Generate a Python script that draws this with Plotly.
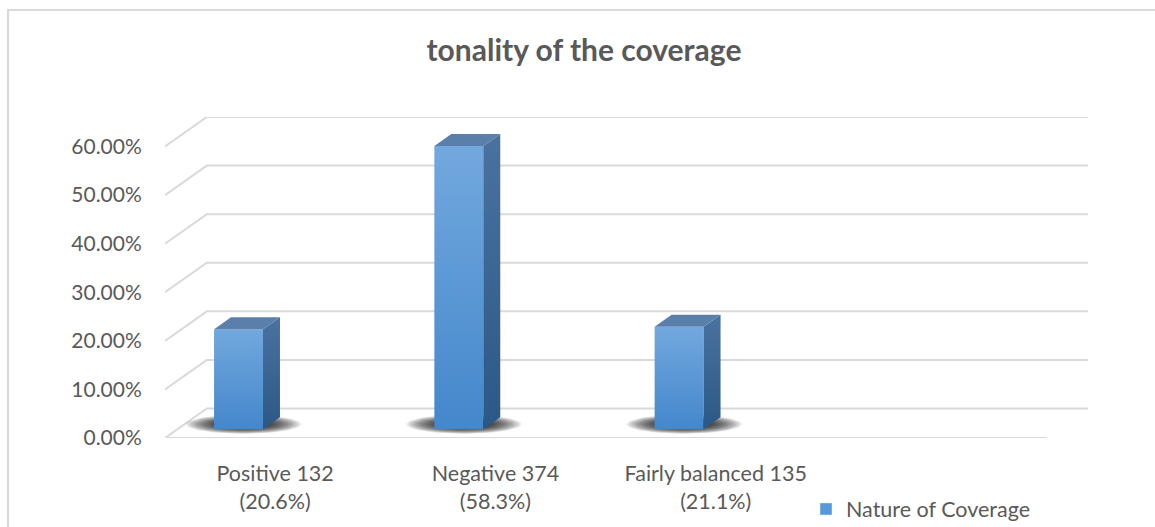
import numpy as np
import plotly.graph_objects as go

# ---- data ----
categories = ["Positive 132", "Negative 374", "Fairly balanced 135"]
shares = ["(20.6%)", "(58.3%)", "(21.1%)"]
values = [20.6, 58.3, 21.1]
y_ticks = [0, 10, 20, 30, 40, 50, 60]
y_tick_labels = [f"{v:.2f}%" for v in y_ticks]
series_name = "Nature of Coverage"
chart_title = "tonality of the coverage"

# ---- 3-D look: oblique projection of the depth axis onto x/y ----
N_SLOTS = 4            # floor is laid out for four category slots
DX, DY = 0.19, 6.08    # shift of the back wall, in x units / y units
D0, D1 = 0.295, 0.70   # front and back depth of the columns (0 = front, 1 = back wall)
BAR_OFFSET, BAR_WIDTH = -1 / 3, 2 / 9

TEXT = "#595959"
GRID = "#d9d9d9"
FONT = "Lato"


def proj(x, y, d):
    return x + d * DX, y + d * DY


fig = go.Figure()

# side-wall and back-wall gridlines
gx, gy = [], []
for v in y_ticks:
    for x, y in (proj(-0.5, v, 0), proj(-0.5, v, 1), proj(N_SLOTS - 0.5, v, 1)):
        gx.append(x)
        gy.append(y)
    gx.append(None)
    gy.append(None)
# front edge of the floor
for x, y in (proj(-0.5, 0, 0), proj(N_SLOTS - 0.5, 0, 0)):
    gx.append(x)
    gy.append(y)
fig.add_trace(go.Scatter(x=gx, y=gy, mode="lines", line=dict(color=GRID, width=2),
                         hoverinfo="skip", showlegend=False, cliponaxis=False))

t = np.linspace(0, 2 * np.pi, 72)
for i, v in enumerate(values):
    xl = i + BAR_OFFSET
    xr = xl + BAR_WIDTH
    dm = (D0 + D1) / 2

    # soft shadow on the floor around the column base (stacked translucent ellipses)
    cx, cy = proj((xl + xr) / 2 - 0.01, 0, dm - 0.03)
    for k in np.linspace(1.05, 0.35, 22):
        fig.add_trace(go.Scatter(
            x=cx + 0.25 * k * np.cos(t), y=cy + 1.9 * k * np.sin(t),
            mode="lines", fill="toself", line=dict(width=0),
            fillcolor="rgba(0,0,0,0.065)", hoverinfo="skip", showlegend=False))

    # front face
    p = [proj(xl, 0, D0), proj(xr, 0, D0), proj(xr, v, D0), proj(xl, v, D0), proj(xl, 0, D0)]
    fig.add_trace(go.Scatter(
        x=[a for a, _ in p], y=[b for _, b in p], mode="lines", fill="toself",
        line=dict(width=0),
        fillgradient=dict(type="vertical", colorscale=[[0, "#4487cb"], [1, "#72a8de"]]),
        hovertext=f"{categories[i]} {shares[i]}", hoverinfo="text", showlegend=False))

    # right side face
    p = [proj(xr, 0, D0), proj(xr, v, D0), proj(xr, v, D1), proj(xr, 0, D1), proj(xr, 0, D0)]
    fig.add_trace(go.Scatter(
        x=[a for a, _ in p], y=[b for _, b in p], mode="lines", fill="toself",
        line=dict(width=0),
        fillgradient=dict(type="vertical", colorscale=[[0, "#2b5886"], [1, "#4a72a0"]]),
        hoverinfo="skip", showlegend=False))

    # top face
    p = [proj(xl, v, D0), proj(xr, v, D0), proj(xr, v, D1), proj(xl, v, D1), proj(xl, v, D0)]
    fig.add_trace(go.Scatter(
        x=[a for a, _ in p], y=[b for _, b in p], mode="lines", fill="toself",
        line=dict(width=0), fillcolor="#5a7fab", hoverinfo="skip", showlegend=False))

# legend entry for the series
fig.add_trace(go.Bar(x=[None], y=[None], name=series_name, marker_color="#5698d8",
                     showlegend=True))

fig.update_layout(
    width=1155, height=527,
    margin=dict(l=165, r=67, t=117, b=89, autoexpand=False),
    paper_bgcolor="white", plot_bgcolor="white",
    font=dict(family=FONT, color=TEXT, size=21),
    title=dict(text=f"<b>{chart_title}</b>", x=584 / 1155, xref="container",
               xanchor="center", y=1 - 50 / 527, yref="container", yanchor="middle",
               font=dict(family=FONT, size=30, color=TEXT)),
    xaxis=dict(range=[-0.5, N_SLOTS - 0.5 + DX], tickvals=list(range(len(categories))),
               ticktext=[f"{c}<br>{s}" for c, s in zip(categories, shares)],
               showgrid=False, zeroline=False, showline=False, automargin=False,
               ticks="outside", ticklen=16, tickcolor="rgba(0,0,0,0)",
               tickfont=dict(size=21.5, color=TEXT), fixedrange=True),
    yaxis=dict(range=[0, 60 + DY], tickvals=y_ticks, ticktext=y_tick_labels,
               showgrid=False, zeroline=False, showline=False, automargin=False,
               ticks="outside", ticklen=18, tickcolor="rgba(0,0,0,0)",
               tickfont=dict(size=21, color=TEXT), fixedrange=True),
    legend=dict(x=(806 - 165) / 923, xanchor="left", y=(438 - 509) / 321, yanchor="middle",
                bgcolor="rgba(0,0,0,0)", font=dict(size=21.5, color=TEXT), itemwidth=30),
    shapes=[dict(type="rect", xref="paper", yref="paper",
                 x0=(8 - 165) / 923, x1=1.2, y0=-0.4, y1=(438 - 10) / 321,
                 line=dict(color=GRID, width=2), fillcolor="rgba(0,0,0,0)", layer="below")],
)

fig.write_html("out.html")
